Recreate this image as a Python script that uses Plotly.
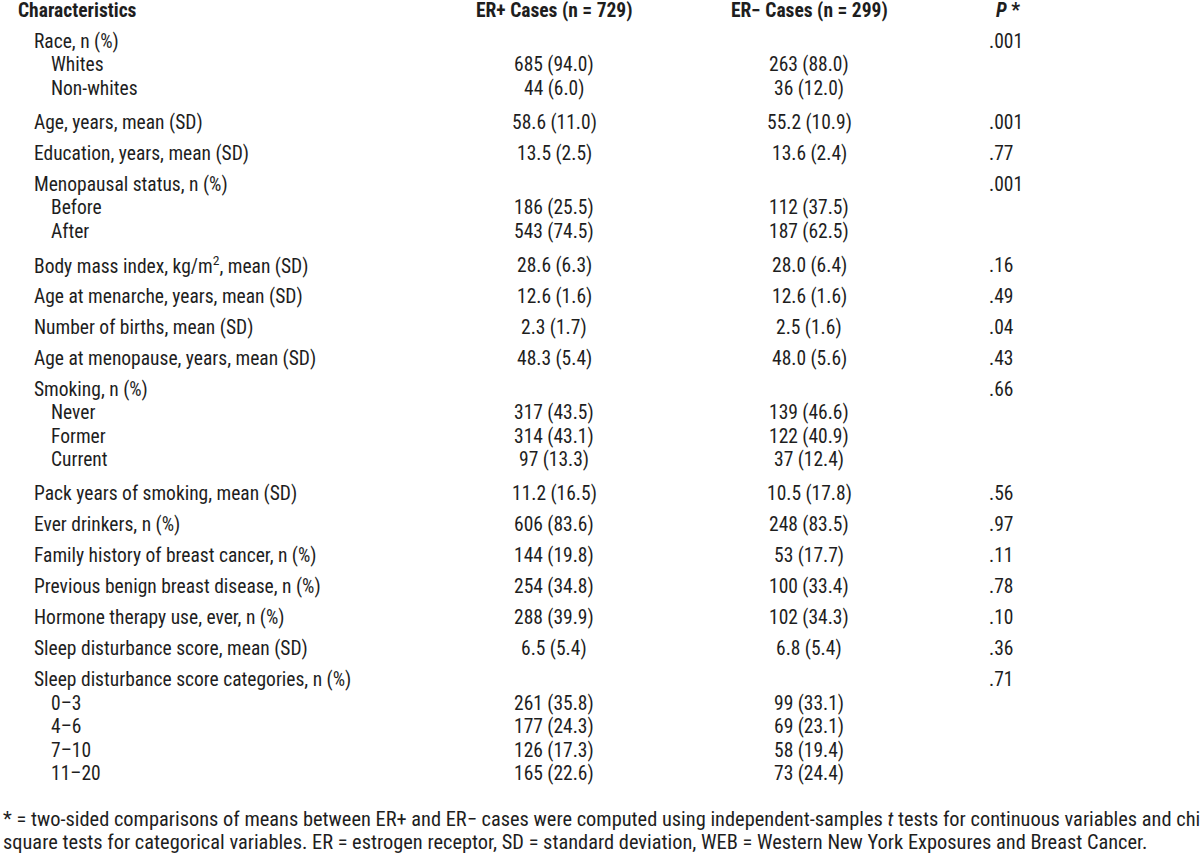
import plotly.graph_objects as go

headers = ["Characteristics", "ER+ Cases (n = 729)", "ER\u2212 Cases (n = 299)", "<i>P</i> *"]

labels = [
    "Race, n (%)", "Whites", "Non-whites",
    "Age, years, mean (SD)",
    "Education, years, mean (SD)",
    "Menopausal status, n (%)", "Before", "After",
    "Body mass index, kg/m<sup>2</sup>, mean (SD)",
    "Age at menarche, years, mean (SD)",
    "Number of births, mean (SD)",
    "Age at menopause, years, mean (SD)",
    "Smoking, n (%)", "Never", "Former", "Current",
    "Pack years of smoking, mean (SD)",
    "Ever drinkers, n (%)",
    "Family history of breast cancer, n (%)",
    "Previous benign breast disease, n (%)",
    "Hormone therapy use, ever, n (%)",
    "Sleep disturbance score, mean (SD)",
    "Sleep disturbance score categories, n (%)",
    "0\u20133", "4\u20136", "7\u201310", "11\u201320",
]
levels = [1, 2, 2, 1, 1, 1, 2, 2, 1, 1, 1, 1, 1, 2, 2, 2, 1, 1, 1, 1, 1, 1, 1, 2, 2, 2, 2]
er_pos = [
    "", "685 (94.0)", "44 (6.0)", "58.6 (11.0)", "13.5 (2.5)", "", "186 (25.5)", "543 (74.5)",
    "28.6 (6.3)", "12.6 (1.6)", "2.3 (1.7)", "48.3 (5.4)", "", "317 (43.5)", "314 (43.1)",
    "97 (13.3)", "11.2 (16.5)", "606 (83.6)", "144 (19.8)", "254 (34.8)", "288 (39.9)",
    "6.5 (5.4)", "", "261 (35.8)", "177 (24.3)", "126 (17.3)", "165 (22.6)",
]
er_neg = [
    "", "263 (88.0)", "36 (12.0)", "55.2 (10.9)", "13.6 (2.4)", "", "112 (37.5)", "187 (62.5)",
    "28.0 (6.4)", "12.6 (1.6)", "2.5 (1.6)", "48.0 (5.6)", "", "139 (46.6)", "122 (40.9)",
    "37 (12.4)", "10.5 (17.8)", "248 (83.5)", "53 (17.7)", "100 (33.4)", "102 (34.3)",
    "6.8 (5.4)", "", "99 (33.1)", "69 (23.1)", "58 (19.4)", "73 (24.4)",
]
p_values = [
    ".001", "", "", ".001", ".77", ".001", "", "", ".16", ".49", ".04", ".43", ".66", "", "", "",
    ".56", ".97", ".11", ".78", ".10", ".36", ".71", "", "", "", "",
]
footnote = [
    "* = two-sided comparisons of means between ER+ and ER\u2212 cases were computed using "
    "independent-samples <i>t</i> tests for continuous variables and chi",
    "square tests for categorical variables. ER = estrogen receptor, SD = standard deviation, "
    "WEB = Western New York Exposures and Breast Cancer.",
]

FONT = "Liberation Sans Narrow, Arial Narrow, Roboto Condensed, Liberation Sans, sans-serif"
SIZE = 19.5
FOOT_SIZE = 20.4
COLOR = "#1e1e1e"

col_x = {"label": 16, "erp": 554, "ern": 809, "p": 987, "ph": 994}
indent = {1: 32, 2: 49}

# compute row positions
ys = []
y = 10
prev = 0
for lv in levels:
    if lv == 2:
        y += 23.5
    else:
        y += 34 if prev == 2 else 31
    ys.append(y)
    prev = lv

ann = []
def add(x, y, text, anchor="left", bold=False, size=SIZE):
    ann.append(dict(x=x, y=y, xref="x", yref="y", text=f"<b>{text}</b>" if bold else text,
                    showarrow=False, xanchor=anchor, yanchor="middle",
                    font=dict(family=FONT, size=size, color=COLOR)))

add(col_x["label"], 10, headers[0], bold=True)
add(col_x["erp"], 10, headers[1], anchor="center", bold=True)
add(col_x["ern"], 10, headers[2], anchor="center", bold=True)
add(col_x["ph"], 10, headers[3], bold=True)

for i, lab in enumerate(labels):
    add(indent[levels[i]], ys[i], lab)
    if er_pos[i]:
        add(col_x["erp"], ys[i], er_pos[i], anchor="center")
    if er_neg[i]:
        add(col_x["ern"], ys[i], er_neg[i], anchor="center")
    if p_values[i]:
        add(col_x["p"], ys[i], p_values[i])

fy = ys[-1] + 45
for j, line in enumerate(footnote):
    add(0.5, fy + j * 23.5, line, size=FOOT_SIZE)

fig = go.Figure()
fig.update_layout(
    width=1200, height=855,
    margin=dict(l=0, r=0, t=0, b=0),
    paper_bgcolor="white", plot_bgcolor="white",
    xaxis=dict(range=[0, 1200], visible=False, fixedrange=True),
    yaxis=dict(range=[855, 0], visible=False, fixedrange=True),
    annotations=ann,
    showlegend=False,
)
fig.write_html("out.html", config={"displayModeBar": False},
               post_script="document.body.style.margin='0';document.body.style.overflow='hidden';")
